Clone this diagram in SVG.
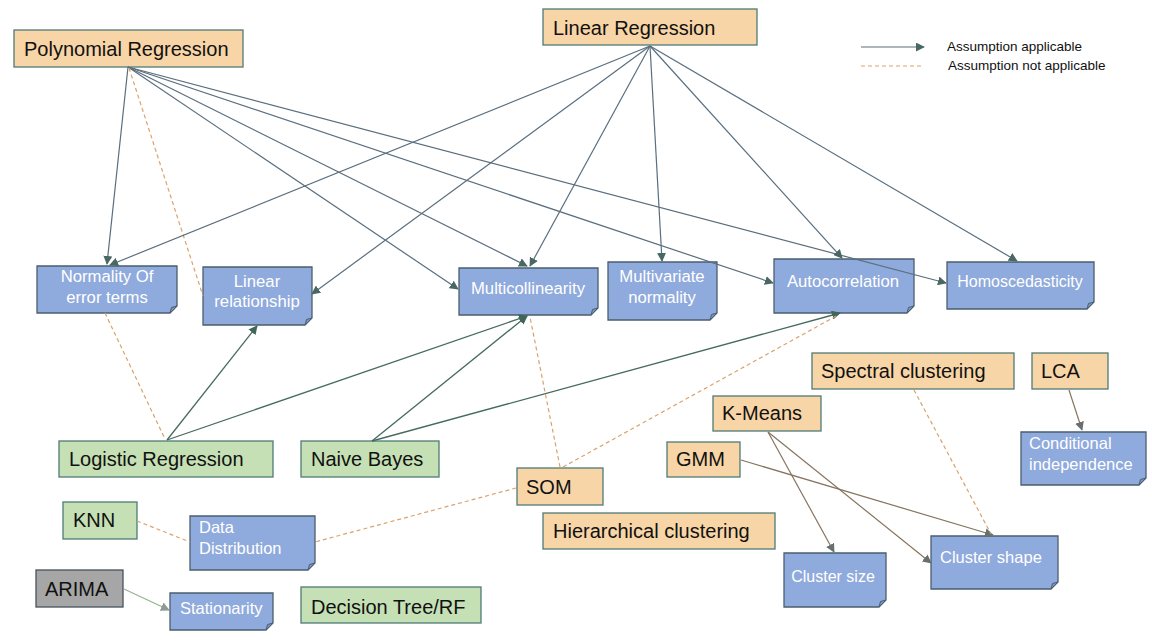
<svg xmlns="http://www.w3.org/2000/svg" width="1152" height="642" viewBox="0 0 1152 642">
<style>
.bg{fill:#ffffff}
.or{fill:#f8d5a6;stroke:#4e7b76;stroke-width:1.3}
.gr{fill:#c5e0b4;stroke:#4e7b76;stroke-width:1.3}
.gy{fill:#a6a6a6;stroke:#44535c;stroke-width:1.3}
.bl{fill:#8faadc;stroke:#4a5f6e;stroke-width:1.3}
.fold{fill:#7b94c8;stroke:#4a5f6e;stroke-width:1}
.big{font-family:"Liberation Sans",Arial,sans-serif;font-size:20px;fill:#111111}
.wt{font-family:"Liberation Sans",Arial,sans-serif;font-size:16.5px;fill:#ffffff}
.wc{font-family:"Liberation Sans",Arial,sans-serif;font-size:16.7px;fill:#ffffff;text-anchor:middle}
.leg{font-family:"Liberation Sans",Arial,sans-serif;font-size:13.5px;fill:#111111}
.a{stroke:#5a6e7e;stroke-width:1.2;fill:none;marker-end:url(#ah)}
.g{stroke:#466b5e;stroke-width:1.3;fill:none;marker-end:url(#ahg)}
.d{stroke:#d9a36c;stroke-width:1.2;stroke-dasharray:4 3;fill:none}
.br{stroke:#86745f;stroke-width:1.2;fill:none;marker-end:url(#ahb)}
.lg{stroke:#94b48e;stroke-width:1.2;fill:none;marker-end:url(#ahl)}
</style>
<defs>
<marker id="ah" viewBox="0 0 10 10" refX="9" refY="5" markerWidth="9" markerHeight="9" markerUnits="userSpaceOnUse" orient="auto"><path d="M0,0 L10,5 L0,10 Z" fill="#496863"/></marker>
<marker id="ahg" viewBox="0 0 10 10" refX="9" refY="5" markerWidth="9" markerHeight="9" markerUnits="userSpaceOnUse" orient="auto"><path d="M0,0 L10,5 L0,10 Z" fill="#3f6658"/></marker>
<marker id="ahb" viewBox="0 0 10 10" refX="9" refY="5" markerWidth="9" markerHeight="9" markerUnits="userSpaceOnUse" orient="auto"><path d="M0,0 L10,5 L0,10 Z" fill="#66706f"/></marker>
<marker id="ahl" viewBox="0 0 10 10" refX="9" refY="5" markerWidth="9" markerHeight="9" markerUnits="userSpaceOnUse" orient="auto"><path d="M0,0 L10,5 L0,10 Z" fill="#8f9a92"/></marker>
</defs>
<rect class="bg" x="0" y="0" width="1152" height="642"/>

<g id="polynomial-regression"><rect class="or" x="14" y="30" width="229" height="37"/><text class="big" x="24" y="56">Polynomial Regression</text></g>
<g id="linear-regression"><rect class="or" x="543" y="9" width="214" height="36"/><text class="big" x="553" y="35">Linear Regression</text></g>

<g id="normality"><path class="bl" d="M37,266 H177 V306 L170,313 H37 Z"/><path class="fold" d="M170,313 L177,306 L171.5,307.5 Z"/><text class="wc" x="107" y="282">Normality Of</text><text class="wc" x="107" y="303">error terms</text></g>
<g id="linear-relationship"><path class="bl" d="M203,267 H312 V318 L305,325 H203 Z"/><path class="fold" d="M305,325 L312,318 L306.5,319.5 Z"/><text class="wc" x="257" y="287">Linear</text><text class="wc" x="257" y="307">relationship</text></g>
<g id="multicollinearity"><path class="bl" d="M459,268 H598 V308 L591,315 H459 Z"/><path class="fold" d="M591,315 L598,308 L592.5,309.5 Z"/><text class="wc" x="528" y="294">Multicollinearity</text></g>
<g id="multivariate-normality"><path class="bl" d="M608,262 H717 V313 L710,320 H608 Z"/><path class="fold" d="M710,320 L717,313 L711.5,314.5 Z"/><text class="wc" x="662" y="282">Multivariate</text><text class="wc" x="662" y="303">normality</text></g>
<g id="autocorrelation"><path class="bl" d="M774,259 H914 V306 L907,313 H774 Z"/><path class="fold" d="M907,313 L914,306 L908.5,307.5 Z"/><text class="wc" x="843" y="287">Autocorrelation</text></g>
<g id="homoscedasticity"><path class="bl" d="M947,262 H1094 V302 L1087,309 H947 Z"/><path class="fold" d="M1087,309 L1094,302 L1088.5,303.5 Z"/><text class="wc" x="1020" y="287" style="font-size:16px">Homoscedasticity</text></g>

<g id="spectral-clustering"><rect class="or" x="812" y="353" width="202" height="36"/><text class="big" x="821" y="378">Spectral clustering</text></g>
<g id="lca"><rect class="or" x="1032" y="353" width="76" height="36"/><text class="big" x="1041" y="378">LCA</text></g>
<g id="conditional-independence"><path class="bl" d="M1021,432 H1146 V478 L1139,485 H1021 Z"/><path class="fold" d="M1139,485 L1146,478 L1140.5,479.5 Z"/><text class="wt" x="1029" y="449">Conditional</text><text class="wt" x="1029" y="470">independence</text></g>
<g id="k-means"><rect class="or" x="713" y="396" width="108" height="35"/><text class="big" x="722" y="420">K-Means</text></g>
<g id="gmm"><rect class="or" x="667" y="442" width="73" height="35"/><text class="big" x="676" y="466">GMM</text></g>
<g id="som"><rect class="or" x="517" y="468" width="86" height="37"/><text class="big" x="526" y="494">SOM</text></g>
<g id="hierarchical-clustering"><rect class="or" x="543" y="513" width="232" height="36"/><text class="big" x="553" y="538">Hierarchical clustering</text></g>
<g id="cluster-size"><path class="bl" d="M784,553 H886 V600 L879,607 H784 Z"/><path class="fold" d="M879,607 L886,600 L880.5,601.5 Z"/><text class="wc" x="833" y="582" style="font-size:16px">Cluster size</text></g>
<g id="cluster-shape"><path class="bl" d="M931,536 H1058 V582 L1051,589 H931 Z"/><path class="fold" d="M1051,589 L1058,582 L1052.5,583.5 Z"/><text class="wt" x="940" y="563">Cluster shape</text></g>

<g id="logistic-regression"><rect class="gr" x="59" y="441" width="214" height="36"/><text class="big" x="69" y="466">Logistic Regression</text></g>
<g id="naive-bayes"><rect class="gr" x="301" y="441" width="138" height="36"/><text class="big" x="311" y="466">Naive Bayes</text></g>
<g id="knn"><rect class="gr" x="63" y="502" width="74" height="37"/><text class="big" x="73" y="527">KNN</text></g>
<g id="data-distribution"><path class="bl" d="M190,516 H315 V563 L308,570 H190 Z"/><path class="fold" d="M308,570 L315,563 L309.5,564.5 Z"/><text class="wt" x="199" y="533">Data</text><text class="wt" x="199" y="554">Distribution</text></g>
<g id="arima"><rect class="gy" x="36" y="570" width="87" height="37"/><text class="big" x="45" y="596">ARIMA</text></g>
<g id="stationarity"><path class="bl" d="M170,593 H273 V623 L266,630 H170 Z"/><path class="fold" d="M266,630 L273,623 L267.5,624.5 Z"/><text class="wt" x="180" y="614">Stationarity</text></g>
<g id="decision-tree"><rect class="gr" x="301" y="587" width="180" height="36"/><text class="big" x="311" y="614">Decision Tree/RF</text></g>

<g id="legend">
<line class="a" x1="861" y1="47" x2="924" y2="47"/>
<line class="d" x1="861" y1="66" x2="924" y2="66"/>
<text class="leg" x="947" y="51">Assumption applicable</text>
<text class="leg" x="948" y="70">Assumption not applicable</text>
</g>

<g id="connectors">
<line class="a" x1="128" y1="67" x2="107" y2="264"/>
<line class="a" x1="128" y1="67" x2="458" y2="289"/>
<line class="a" x1="128" y1="67" x2="527" y2="266"/>
<line class="a" x1="128" y1="67" x2="773" y2="283"/>
<line class="a" x1="128" y1="67" x2="946" y2="283"/>
<line class="d" x1="129" y1="68" x2="203" y2="296"/>
<line class="a" x1="650" y1="46" x2="110" y2="265"/>
<line class="a" x1="650" y1="46" x2="312" y2="294"/>
<line class="a" x1="650" y1="46" x2="530" y2="266"/>
<line class="a" x1="650" y1="46" x2="662" y2="261"/>
<line class="a" x1="650" y1="46" x2="842" y2="258"/>
<line class="a" x1="650" y1="46" x2="1017" y2="261"/>
<line class="g" x1="167" y1="440" x2="257" y2="326"/>
<line class="g" x1="167" y1="440" x2="527" y2="316"/>
<line class="d" x1="105" y1="313" x2="165" y2="439"/>
<line class="g" x1="372" y1="441" x2="527" y2="316"/>
<line class="g" x1="372" y1="441" x2="840" y2="313"/>
<line class="d" x1="560" y1="467" x2="530" y2="317"/>
<line class="d" x1="563" y1="467" x2="838" y2="315"/>
<line class="d" x1="516" y1="488" x2="315" y2="542"/>
<line class="d" x1="137" y1="521" x2="190" y2="542"/>
<line class="lg" x1="124" y1="589" x2="169" y2="610"/>
<line class="br" x1="768" y1="432" x2="834" y2="552"/>
<line class="br" x1="768" y1="432" x2="931" y2="563"/>
<line class="br" x1="741" y1="460" x2="993" y2="535"/>
<line class="d" x1="914" y1="390" x2="991" y2="534"/>
<line class="br" x1="1069" y1="390" x2="1082" y2="430"/>
</g>
</svg>
